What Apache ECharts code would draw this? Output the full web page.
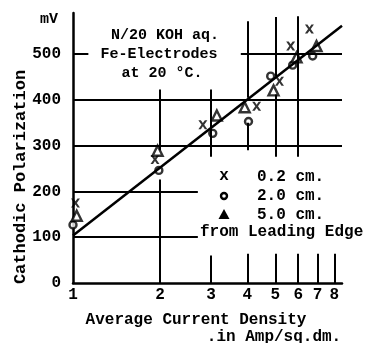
<!DOCTYPE html>
<html>
<head>
<meta charset="utf-8">
<script src="https://cdn.jsdelivr.net/npm/echarts@6/dist/echarts.min.js"></script>
<style>html,body{margin:0;padding:0;background:#fff;}#c{width:365px;height:343px;}</style>
</head>
<body>
<div id="c"></div>
<script>
// ---- data ----
const xTicks = [1, 2, 3, 4, 5, 6, 7, 8];
const yTicks = [0, 100, 200, 300, 400, 500];
const cross02 = [[1.02,175],[1.92,270],[2.81,346],[4.31,386],[5.17,441],[5.65,518],[6.56,555]];
const circle20 = [[1.0,127],[1.98,246],[3.04,327],[4.04,353],[4.82,452],[5.74,476],[6.73,496]];
const tri50 = [[1.03,147],[1.96,289],[3.14,366],[3.92,384],[4.93,421],[5.92,493],[6.94,518]];
const fitLine = [[1, 104], [8.5, 562]];
// partial grid lines: [y, xFrom, xTo]
const hGrid = [[500,1,1.13],[500,3.8,8.5],[400,1,8.5],[300,1,8.5],[200,1,2.7],[100,1,2.7]];
// partial grid lines: [x, yFrom, yTo]
const vGrid = [[2,0,226],[2,290,423],[3,0,60],[3,276,423],[4,0,64],[4,290,350],[4,405,572],
  [5,0,64],[5,276,412],[5,452,581],[6,0,64],[6,276,583],[7,0,64],[7,276,594],[8,0,64],[8,276,592]];

const FONT = '"Liberation Mono", "Courier New", monospace';
const chart = echarts.init(document.getElementById('c'), null, {renderer: 'canvas'});

const gridSegs = [];
hGrid.forEach(h => gridSegs.push([{coord: [h[1], h[0]]}, {coord: [h[2], h[0]]}]));
vGrid.forEach(v => gridSegs.push([{coord: [v[0], v[1]]}, {coord: [v[0], v[2]]}]));

const crossPath = 'path://M0,0 L2.8,0 L5,3.2 L7.2,0 L10,0 L6.5,5 L10,10 L7.2,10 L5,6.8 L2.8,10 L0,10 L3.5,5 Z';

function txt(x, y, text, size, align, rot) {
  const o = {type: 'text', x: x, y: y, style: {text: text, font: 'bold ' + size + 'px ' + FONT,
    fill: '#000', align: align || 'center', verticalAlign: 'middle'}};
  if (rot) o.rotation = rot;
  return o;
}

const labelInk = {color: '#000', fontFamily: FONT, fontWeight: 'bold', fontSize: 16};

chart.setOption({
  animation: false,
  backgroundColor: '#fff',
  grid: {left: 73, right: 23, top: 13, bottom: 60, containLabel: false},
  xAxis: {
    type: 'log', logBase: 10, min: 1, max: 8.5,
    axisLine: {lineStyle: {color: '#000', width: 2.5}},
    axisTick: {show: false},
    splitLine: {show: false},
    minorTick: {show: false},
    axisLabel: Object.assign({customValues: xTicks, margin: 4}, labelInk)
  },
  yAxis: {
    type: 'value', min: 0, max: 590, interval: 100,
    axisLine: {show: true, lineStyle: {color: '#000', width: 2.5}},
    axisTick: {show: false},
    splitLine: {show: false},
    axisLabel: Object.assign({customValues: yTicks, margin: 12}, labelInk)
  },
  series: [
    {
      type: 'line', data: fitLine, symbol: 'none', silent: true,
      lineStyle: {color: '#000', width: 2.5},
      markLine: {
        silent: true, symbol: 'none', label: {show: false},
        lineStyle: {color: '#000', width: 2, type: 'solid'},
        data: gridSegs
      }
    },
    {
      type: 'scatter', name: '0.2 cm.', data: cross02, symbol: crossPath, symbolSize: 9,
      itemStyle: {color: '#000'}
    },
    {
      type: 'scatter', name: '2.0 cm.', data: circle20, symbol: 'circle', symbolSize: 7,
      itemStyle: {color: '#fff', borderColor: '#000', borderWidth: 2.4}
    },
    {
      type: 'scatter', name: '5.0 cm.', data: tri50, symbol: 'triangle', symbolSize: 10,
      itemStyle: {color: '#fff', borderColor: '#000', borderWidth: 2.4}
    }
  ],
  graphic: [
    txt(49, 19, 'mV', 15),
    txt(165, 35, 'N/20 KOH aq.', 15),
    txt(159, 54, 'Fe-Electrodes', 15),
    txt(162, 73, 'at 20 °C.', 15),
    txt(21, 177, 'Cathodic Polarization', 17, 'center', Math.PI / 2),
    txt(196, 320, 'Average Current Density', 16),
    txt(274, 337, '.in Amp/sq.dm.', 16),
    // legend
    txt(224, 176, 'x', 16),
    {type: 'circle', shape: {cx: 224, cy: 196, r: 3}, style: {fill: '#fff', stroke: '#000', lineWidth: 2.4}},
    {type: 'polygon', shape: {points: [[224, 209], [229.5, 219], [218.5, 219]]}, style: {fill: '#000'}},
    txt(257, 177, '0.2 cm.', 16, 'left'),
    txt(257, 196, '2.0 cm.', 16, 'left'),
    txt(257, 215, '5.0 cm.', 16, 'left'),
    txt(200, 232, 'from Leading Edge', 16, 'left')
  ]
});
</script>
</body>
</html>
